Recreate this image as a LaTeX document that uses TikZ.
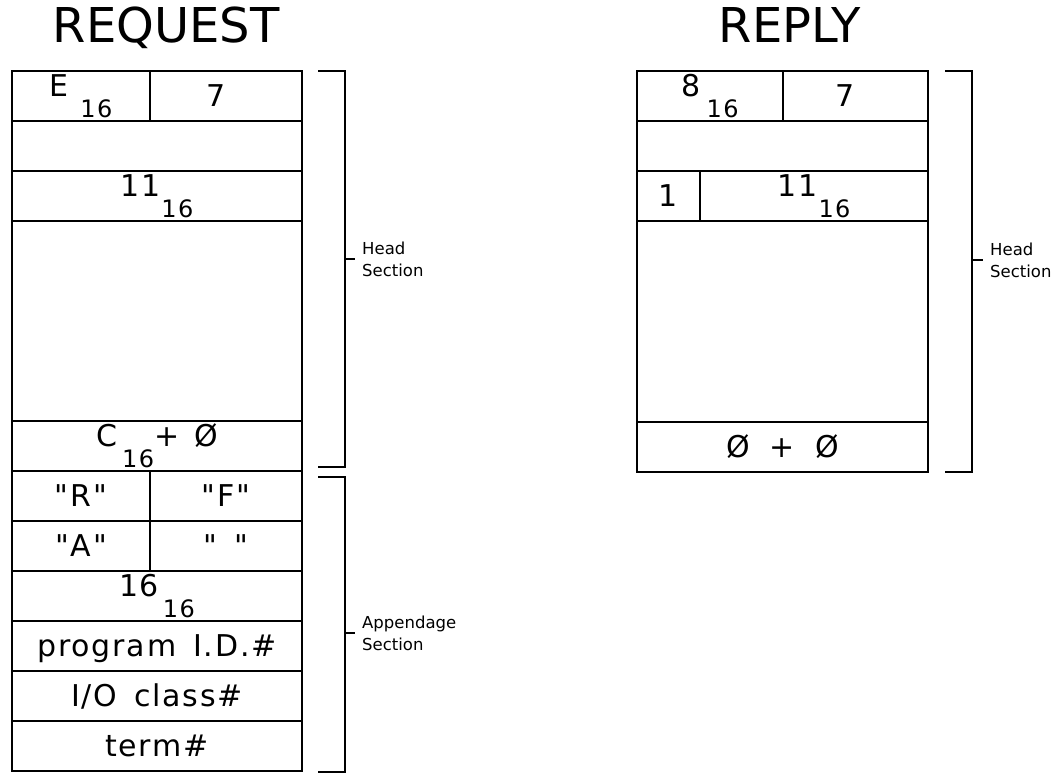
\documentclass[tikz,border=0pt]{standalone}
\usepackage{fontspec}
\setmainfont{DejaVu Sans}[Ligatures=TeXOff]
\newfontfamily\plotfont{DejaVu Sans}[Ligatures=TeXOff, LetterSpace=6, WordSpace=1.5]
\usepackage{tikz}
\usetikzlibrary{positioning}

\newcommand{\cellfont}{\plotfont\fontsize{30}{32}\selectfont}
\newcommand{\titlefont}{\fontsize{48}{50}\selectfont}
\newcommand{\labelfont}{\fontsize{16.5}{22}\selectfont}
\newcommand{\subnumfont}{\plotfont\fontsize{24}{24}\selectfont}
\newcommand{\hexsub}[3][3pt]{#2\kern#1\raisebox{-21pt}{\subnumfont #3}}

\begin{document}
\begin{tikzpicture}[
  x=1pt, y=-1pt,
  cell/.style={draw, line width=2.2pt, outer sep=0pt, inner sep=0pt, minimum height=50pt, font=\cellfont},
  half/.style={cell, minimum width=138pt},
  halfr/.style={cell, minimum width=152pt},
  full/.style={cell, minimum width=290pt},
  title/.style={font=\titlefont, inner sep=0pt, anchor=base},
  bracket/.style={line width=2.2pt},
  seclabel/.style={font=\labelfont, align=left, anchor=west, inner sep=0pt}
]
  \useasboundingbox (0,0) rectangle (1058,775);

  % REQUEST ================================
  \node[title] (reqtitle) at (166,43) {REQUEST};
  \node[half, anchor=north west] (qE) at (12,71) {\hexsub[12pt]{E}{16}};
  \node[halfr, right=0pt of qE] (q7) {\hspace{-20pt}7};
  \node[full, anchor=north west] (q2) at (qE.south west) {};
  \node[full, below=0pt of q2] (q11) {\hexsub[1pt]{11}{16}};
  \node[full, below=0pt of q11, minimum height=200pt] (qblank) {};
  \node[full, below=0pt of qblank] (qC) {\hexsub[5pt]{C}{16}+\enspace Ø\hspace{20pt}};

  % appendage rows
  \node[half, anchor=north west] (qR) at (qC.south west) {"R"};
  \node[halfr, right=0pt of qR] (qF) {"F"\hspace{12pt}};
  \node[half, below=0pt of qR] (qA) {"A"};
  \node[halfr, below=0pt of qF] (qsp) {"\hphantom{F}"\hspace{12pt}};
  \node[full, anchor=north west] (q16) at (qA.south west) {\hexsub[4pt]{16}{16}};
  \node[full, below=0pt of q16, text depth=0pt] (qprog) {program I.D.\#};
  \node[full, below=0pt of qprog] (qio) {I/O class\#};
  \node[full, below=0pt of qio] (qterm) {term\#};

  % REPLY ================================
  \node[title] (reptitle) at (790,43) {REPLY};
  \node[cell, minimum width=146pt, anchor=north west] (r8) at (637,71) {\hexsub[6pt]{8}{16}};
  \node[cell, minimum width=145pt, right=0pt of r8] (r7) {\hspace{-20pt}7};
  \node[cell, minimum width=291pt, anchor=north west] (r2) at (r8.south west) {};
  \node[cell, minimum width=63pt, anchor=north west] (r1) at (r2.south west) {1};
  \node[cell, minimum width=228pt, right=0pt of r1] (r11) {\hexsub[1pt]{11}{16}};
  \node[cell, minimum width=291pt, minimum height=201pt, anchor=north west] (rblank) at (r1.south west) {};
  \node[cell, minimum width=291pt, below=0pt of rblank] (rZ) {Ø\hspace{20pt}+\hspace{20pt}Ø\hspace{20pt}};

  % Brackets
  \coordinate (hqtop) at (318,71);
  \coordinate (hqtick) at (345,259);
  \coordinate (hqbot) at (318,467);
  \coordinate (hqend) at (355,259);
  \draw[bracket] (hqtop) -| (hqtick) |- (hqbot);
  \draw[bracket] (hqtick) -- (hqend);
  \node[seclabel, right=7pt of hqend] (hqlabel) {Head\\Section};

  \coordinate (aqtop) at (318,477);
  \coordinate (aqtick) at (345,633);
  \coordinate (aqbot) at (318,772);
  \coordinate (aqend) at (355,633);
  \draw[bracket] (aqtop) -| (aqtick) |- (aqbot);
  \draw[bracket] (aqtick) -- (aqend);
  \node[seclabel, right=7pt of aqend] (aqlabel) {Appendage\\Section};

  \coordinate (hrtop) at (945,71);
  \coordinate (hrtick) at (972,260);
  \coordinate (hrbot) at (945,472);
  \coordinate (hrend) at (983,260);
  \draw[bracket] (hrtop) -| (hrtick) |- (hrbot);
  \draw[bracket] (hrtick) -- (hrend);
  \node[seclabel, right=7pt of hrend] (hrlabel) {Head\\Section};

\end{tikzpicture}
\end{document}
